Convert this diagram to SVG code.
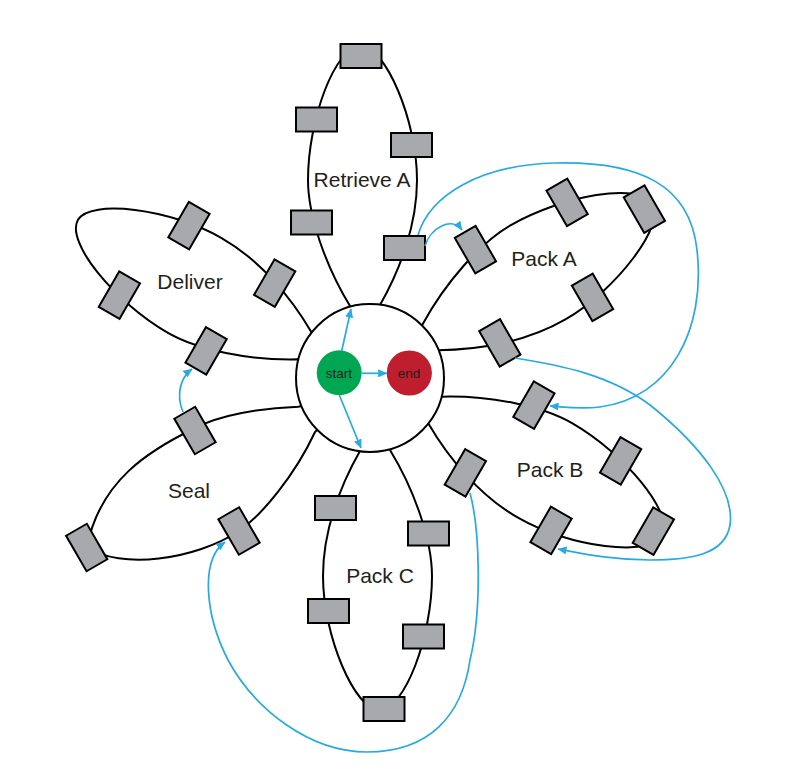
<svg xmlns="http://www.w3.org/2000/svg" xmlns:xlink="http://www.w3.org/1999/xlink" width="807" height="771" viewBox="0 0 807 771">
<style>
.petal{fill:none;stroke:#000;stroke-width:2}
.lbl{font-family:"Liberation Sans",Arial,sans-serif;font-size:21px;fill:#231f20;text-anchor:middle}
.small{font-family:"Liberation Sans",Arial,sans-serif;font-size:13.5px;fill:#231f20;text-anchor:middle}
.con{fill:none;stroke:#27aae1;stroke-width:1.7}
</style>
<defs>
<rect id="bx" x="-20.5" y="-12" width="41" height="24" fill="#a7a9ac" stroke="#000" stroke-width="2"/>
<path id="pet" d="M353,318 L350,306 C325,265 308,215 308,180 C308,120 335,46 361,46 C385,46 417,120 417,180 C417,225 400,270 380,305 L378,318"/>
<marker id="ah" markerUnits="userSpaceOnUse" markerWidth="9" markerHeight="8" refX="8.5" refY="4" orient="auto"><path d="M0,0 L9,4 L0,8 z" fill="#27aae1"/></marker>
</defs>
<rect width="807" height="771" fill="#fff"/>

<g id="retrieve-a">
<use href="#pet" class="petal"/>
<use href="#bx" x="361" y="56"/>
<use href="#bx" x="316.5" y="119.5"/>
<use href="#bx" x="411.5" y="145"/>
<use href="#bx" x="311.5" y="222.5"/>
<use href="#bx" x="404.5" y="248"/>
<text class="lbl" x="362" y="187">Retrieve A</text>
</g>

<g id="pack-a">
<g transform="rotate(60 370 378)">
<use href="#pet" class="petal"/>
<use href="#bx" x="361" y="56"/>
<use href="#bx" x="316.5" y="119.5"/>
<use href="#bx" x="411.5" y="145"/>
<use href="#bx" x="311.5" y="222.5"/>
<use href="#bx" x="404.5" y="248"/>
</g>
<text class="lbl" x="544" y="266">Pack A</text>
</g>

<g id="pack-b">
<g transform="rotate(120 370 378)">
<use href="#pet" class="petal"/>
<use href="#bx" x="361" y="56"/>
<use href="#bx" x="316.5" y="119.5"/>
<use href="#bx" x="411.5" y="145"/>
<use href="#bx" x="311.5" y="222.5"/>
<use href="#bx" x="404.5" y="248"/>
</g>
<text class="lbl" x="550" y="477">Pack B</text>
</g>

<g id="pack-c">
<g transform="rotate(180 370 378)">
<use href="#pet" class="petal"/>
<use href="#bx" x="316.5" y="119.5"/>
<use href="#bx" x="411.5" y="145"/>
<use href="#bx" x="311.5" y="222.5"/>
<use href="#bx" x="404.5" y="248"/>
</g>
<use href="#bx" x="384" y="709"/>
<text class="lbl" x="380" y="583">Pack C</text>
</g>

<g id="seal">
<path class="petal" d="M310,404 L298.3,406.7 C260,408 220,415 195,428 C150,450 100,480 87,547 C120,570 195,560 239,531 C262,515 295,475 315,432 L322,425"/>
<use href="#bx" transform="translate(195,430.5) rotate(60)"/>
<use href="#bx" transform="translate(239,531) rotate(60)"/>
<use href="#bx" transform="translate(86.7,547.5) rotate(60)"/>
<text class="lbl" x="189" y="498">Seal</text>
</g>

<g id="deliver">
<g transform="rotate(-60 370 378)">
<use href="#pet" class="petal"/>
<use href="#bx" x="316.5" y="119.5"/>
<use href="#bx" x="411.5" y="145"/>
<use href="#bx" x="311.5" y="222.5"/>
<use href="#bx" x="404.5" y="248"/>
</g>
<text class="lbl" x="190" y="289">Deliver</text>
</g>

<g id="hub">
<circle cx="370" cy="378" r="74" fill="#fff" stroke="#000" stroke-width="2"/>
</g>
<g id="start">
<circle cx="339.2" cy="372.8" r="22.5" fill="#00a651"/>
<text class="small" x="339" y="377.5">start</text>
</g>
<g id="end">
<circle cx="409.3" cy="373" r="22.6" fill="#be1e2d"/>
<text class="small" x="409" y="377.5">end</text>
</g>

<g id="connectors">
<path class="con" marker-end="url(#ah)" d="M341.7,351 L351,309"/>
<path class="con" marker-end="url(#ah)" d="M362,373.3 L386.7,373.3"/>
<path class="con" marker-end="url(#ah)" d="M339.3,395 L361,448"/>
<path class="con" marker-end="url(#ah)" d="M425,246 C430,228 452,216 462,230"/>
<path class="con" marker-end="url(#ah)" d="M418,235 C430,195 480,165 555,163 C640,161 690,185 697,250 C706,330 670,398 600,407 C580,409.6 565,407 550,406"/>
<path class="con" marker-end="url(#ah)" d="M515,358 C560,365 610,375 650,405 C700,445 735,490 730,525 C725,555 690,560 650,560 C610,560 580,553 558,549"/>
<path class="con" marker-end="url(#ah)" d="M470,493 C480,530 482,610 470,660 C462,715 430,752 367,752 C310,752 255,710 228,660 C205,615 200,560 225,542"/>
<path class="con" marker-end="url(#ah)" d="M183,412 C176,395 180,378 192,369"/>
</g>
</svg>
